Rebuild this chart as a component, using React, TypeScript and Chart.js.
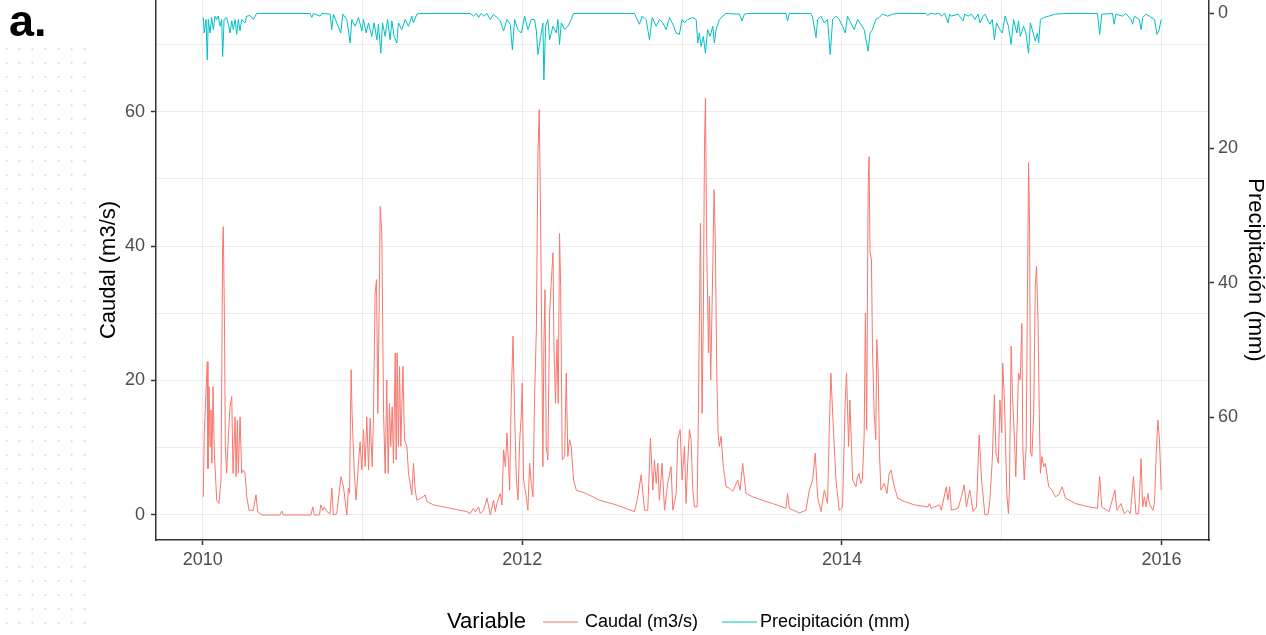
import React, { useEffect, useRef } from "react";
import { Chart, registerables } from "chart.js";

Chart.register(...registerables);

// Caudal (m3/s) — decimal year / value pairs
const caudalX = [
  2010.004, 2010.010, 2010.029, 2010.033, 2010.040, 2010.046, 2010.052, 2010.058, 2010.065, 2010.073,
  2010.088, 2010.102, 2010.115, 2010.125, 2010.129, 2010.136, 2010.142, 2010.150, 2010.163, 2010.171,
  2010.182, 2010.190, 2010.203, 2010.209, 2010.217, 2010.223, 2010.234, 2010.244, 2010.255, 2010.265,
  2010.276, 2010.290, 2010.317, 2010.334, 2010.344, 2010.370, 2010.484, 2010.495, 2010.505, 2010.678,
  2010.689, 2010.699, 2010.731, 2010.739, 2010.752, 2010.762, 2010.777, 2010.797, 2010.808, 2010.818,
  2010.839, 2010.866, 2010.881, 2010.902, 2010.912, 2010.919, 2010.929, 2010.935, 2010.948, 2010.960,
  2010.975, 2010.985, 2010.996, 2011.006, 2011.017, 2011.027, 2011.038, 2011.048, 2011.061, 2011.069,
  2011.079, 2011.088, 2011.096, 2011.104, 2011.111, 2011.121, 2011.132, 2011.142, 2011.152, 2011.161,
  2011.169, 2011.177, 2011.186, 2011.194, 2011.205, 2011.211, 2011.217, 2011.225, 2011.232, 2011.240,
  2011.253, 2011.263, 2011.278, 2011.288, 2011.309, 2011.319, 2011.330, 2011.340, 2011.365, 2011.382,
  2011.392, 2011.403, 2011.445, 2011.549, 2011.653, 2011.674, 2011.695, 2011.706, 2011.727, 2011.737,
  2011.758, 2011.779, 2011.800, 2011.820, 2011.831, 2011.841, 2011.862, 2011.873, 2011.883, 2011.894,
  2011.904, 2011.914, 2011.921, 2011.931, 2011.942, 2011.952, 2011.963, 2011.973, 2011.983, 2011.994,
  2012.000, 2012.008, 2012.025, 2012.035, 2012.046, 2012.056, 2012.067, 2012.077, 2012.088, 2012.098,
  2012.106, 2012.113, 2012.119, 2012.129, 2012.135, 2012.142, 2012.150, 2012.160, 2012.171, 2012.181,
  2012.192, 2012.198, 2012.208, 2012.217, 2012.225, 2012.233, 2012.240, 2012.250, 2012.265, 2012.275,
  2012.285, 2012.296, 2012.306, 2012.321, 2012.338, 2012.400, 2012.483, 2012.588, 2012.702, 2012.723,
  2012.744, 2012.765, 2012.785, 2012.802, 2012.817, 2012.827, 2012.838, 2012.848, 2012.858, 2012.875,
  2012.890, 2012.910, 2012.931, 2012.942, 2012.963, 2012.973, 2012.988, 2013.000, 2013.015, 2013.025,
  2013.035, 2013.046, 2013.056, 2013.067, 2013.077, 2013.094, 2013.102, 2013.108, 2013.115, 2013.125,
  2013.133, 2013.140, 2013.146, 2013.154, 2013.165, 2013.171, 2013.179, 2013.192, 2013.200, 2013.208,
  2013.217, 2013.225, 2013.233, 2013.244, 2013.258, 2013.275, 2013.296, 2013.317, 2013.348, 2013.363,
  2013.379, 2013.400, 2013.442, 2013.525, 2013.567, 2013.650, 2013.660, 2013.671, 2013.733, 2013.775,
  2013.796, 2013.817, 2013.833, 2013.848, 2013.869, 2013.890, 2013.910, 2013.921, 2013.931, 2013.942,
  2013.963, 2013.983, 2014.004, 2014.021, 2014.029, 2014.042, 2014.050, 2014.067, 2014.088, 2014.097,
  2014.107, 2014.118, 2014.128, 2014.139, 2014.147, 2014.155, 2014.164, 2014.170, 2014.176, 2014.185,
  2014.191, 2014.202, 2014.212, 2014.218, 2014.227, 2014.235, 2014.244, 2014.265, 2014.282, 2014.296,
  2014.307, 2014.328, 2014.349, 2014.391, 2014.454, 2014.538, 2014.548, 2014.559, 2014.611, 2014.622,
  2014.653, 2014.664, 2014.674, 2014.685, 2014.727, 2014.748, 2014.765, 2014.779, 2014.800, 2014.821,
  2014.842, 2014.859, 2014.874, 2014.895, 2014.916, 2014.926, 2014.941, 2014.954, 2014.964, 2014.979,
  2014.989, 2015.000, 2015.006, 2015.017, 2015.032, 2015.042, 2015.048, 2015.059, 2015.067, 2015.080,
  2015.088, 2015.105, 2015.116, 2015.126, 2015.132, 2015.141, 2015.153, 2015.160, 2015.168, 2015.174,
  2015.181, 2015.189, 2015.200, 2015.210, 2015.218, 2015.227, 2015.235, 2015.242, 2015.252, 2015.263,
  2015.273, 2015.294, 2015.315, 2015.336, 2015.357, 2015.378, 2015.399, 2015.462, 2015.546, 2015.599,
  2015.613, 2015.626, 2015.672, 2015.708, 2015.721, 2015.746, 2015.767, 2015.788, 2015.805, 2015.824,
  2015.840, 2015.857, 2015.872, 2015.882, 2015.893, 2015.903, 2015.914, 2015.924, 2015.945, 2015.956,
  2015.966, 2015.977, 2015.987, 2015.998,
];
const caudalY = [
  2.7, 12.2, 22.8, 6.9, 19.1, 10.2, 15.6, 7.7, 19.1, 9.2,
  2.2, 1.7, 5.2, 40.0, 42.9, 30.0, 10.2, 6.2, 12.7, 16.1,
  17.6, 6.2, 14.6, 5.7, 14.1, 6.2, 14.6, 6.2, 6.7, 6.2,
  2.7, 0.7, 0.7, 3.0, 0.5, 0, 0, 0.6, 0, 0,
  1.2, 0, 0, 1.5, 0.7, 1.2, 0.5, 0.2, 4.0, 0,
  0.2, 5.7, 4.2, 0, 4.0, 3.2, 21.6, 15.1, 6.7, 2.2,
  7.7, 10.9, 6.7, 12.7, 7.2, 14.6, 6.7, 14.4, 7.2, 15.1,
  33.0, 35.0, 15.1, 30.0, 45.9, 41.9, 15.1, 6.2, 20.1, 6.2,
  16.6, 10.2, 16.1, 7.7, 24.1, 8.2, 24.1, 10.2, 22.1, 10.2,
  22.1, 11.2, 10.2, 6.2, 3.0, 7.7, 3.7, 2.2, 2.5, 2.7,
  3.0, 2.0, 1.5, 1.0, 0.5, 0.2, 1.0, 0.5, 1.2, 0.2,
  0.7, 2.5, 0, 2.2, 0.5, 1.7, 3.2, 1.5, 9.7, 7.2,
  12.2, 7.7, 3.7, 17.6, 26.6, 15.1, 5.2, 2.2, 10.7, 15.1,
  19.6, 5.2, 2.7, 0.7, 7.7, 4.7, 2.7, 17.6, 27.5, 53.8,
  60.3, 47.4, 33.0, 7.2, 25.1, 33.5, 10.2, 8.2, 30.0, 34.5,
  39.0, 25.1, 16.6, 26.1, 16.6, 41.9, 34.0, 8.2, 8.7, 21.1,
  8.7, 11.2, 10.2, 5.2, 3.7, 3.2, 2.2, 1.5, 0.5, 2.7,
  6.0, 0.7, 0.7, 11.4, 3.7, 8.2, 4.7, 7.7, 2.2, 7.7,
  0.7, 4.7, 7.2, 0.7, 3.2, 11.2, 12.7, 5.2, 10.2, 1.7,
  7.7, 12.7, 11.2, 3.7, 1.2, 1.2, 15.1, 29.0, 43.4, 15.1,
  30.0, 54.8, 62.0, 40.0, 24.1, 32.5, 20.1, 37.0, 48.4, 40.9,
  21.1, 12.2, 10.2, 11.7, 7.2, 4.2, 4.0, 3.5, 5.2, 3.7,
  7.7, 3.2, 2.7, 2.0, 1.7, 1.0, 3.2, 1.0, 0.3, 0.7,
  3.7, 5.2, 9.2, 2.7, 0.5, 3.7, 1.7, 12.7, 21.1, 15.1,
  5.2, 0.7, 1.2, 17.1, 21.1, 10.2, 17.1, 5.2, 4.2, 5.7,
  6.2, 4.7, 5.2, 11.7, 30.0, 12.7, 48.4, 53.3, 39.0, 38.0,
  25.1, 15.1, 11.2, 26.1, 21.6, 9.2, 3.7, 4.7, 3.2, 6.2,
  6.7, 4.2, 2.5, 2.0, 1.5, 1.2, 1.7, 1.0, 1.5, 0.7,
  4.2, 2.2, 4.2, 0.7, 1.0, 2.7, 4.5, 1.2, 3.7, 0.5,
  1.2, 11.9, 5.2, 0, 0.2, 2.2, 8.2, 17.9, 9.2, 7.7,
  17.1, 12.2, 22.6, 17.1, 3.2, 0.2, 3.7, 25.1, 18.1, 11.2,
  5.7, 21.1, 20.1, 28.5, 10.2, 5.2, 10.2, 30.0, 52.4, 43.9,
  9.2, 8.7, 15.1, 34.0, 37.0, 29.0, 15.1, 6.2, 8.7, 7.2,
  7.7, 4.2, 3.7, 2.7, 3.0, 4.2, 2.5, 1.7, 1.2, 1.0,
  5.7, 1.2, 0.5, 3.7, 0.7, 1.7, 0.2, 0.7, 0.2, 5.7,
  0.2, 0.2, 8.4, 1.2, 2.7, 1.2, 3.2, 1.7, 0.7, 1.7,
  8.7, 14.1, 11.2, 3.7,
];

// Precipitación (mm) — decimal year / value pairs
const precipX = [
  2010.004, 2010.010, 2010.021, 2010.029, 2010.035, 2010.046, 2010.056, 2010.067, 2010.077, 2010.088,
  2010.098, 2010.109, 2010.119, 2010.125, 2010.134, 2010.150, 2010.161, 2010.171, 2010.182, 2010.192,
  2010.203, 2010.213, 2010.223, 2010.234, 2010.244, 2010.265, 2010.276, 2010.296, 2010.317, 2010.338,
  2010.672, 2010.683, 2010.693, 2010.735, 2010.745, 2010.797, 2010.808, 2010.818, 2010.864, 2010.877,
  2010.902, 2010.923, 2010.933, 2010.954, 2010.975, 2010.996, 2011.006, 2011.023, 2011.038, 2011.058,
  2011.073, 2011.090, 2011.100, 2011.115, 2011.125, 2011.142, 2011.157, 2011.173, 2011.184, 2011.198,
  2011.215, 2011.225, 2011.246, 2011.267, 2011.288, 2011.309, 2011.319, 2011.340, 2011.361, 2011.674,
  2011.695, 2011.712, 2011.727, 2011.741, 2011.758, 2011.779, 2011.800, 2011.820, 2011.841, 2011.862,
  2011.883, 2011.904, 2011.925, 2011.938, 2011.952, 2011.973, 2011.994, 2012.015, 2012.035, 2012.056,
  2012.077, 2012.088, 2012.098, 2012.119, 2012.129, 2012.135, 2012.146, 2012.160, 2012.171, 2012.192,
  2012.213, 2012.223, 2012.233, 2012.244, 2012.265, 2012.285, 2012.306, 2012.321, 2012.702, 2012.723,
  2012.733, 2012.750, 2012.775, 2012.796, 2012.813, 2012.838, 2012.858, 2012.879, 2012.900, 2012.921,
  2012.942, 2012.963, 2012.983, 2013.000, 2013.015, 2013.035, 2013.067, 2013.088, 2013.098, 2013.108,
  2013.119, 2013.133, 2013.146, 2013.160, 2013.175, 2013.192, 2013.202, 2013.213, 2013.233, 2013.254,
  2013.275, 2013.358, 2013.375, 2013.390, 2013.410, 2013.650, 2013.660, 2013.671, 2013.806, 2013.817,
  2013.838, 2013.848, 2013.869, 2013.890, 2013.910, 2013.927, 2013.942, 2013.963, 2013.983, 2014.004,
  2014.021, 2014.035, 2014.056, 2014.077, 2014.098, 2014.118, 2014.139, 2014.155, 2014.164, 2014.176,
  2014.191, 2014.212, 2014.233, 2014.254, 2014.286, 2014.317, 2014.349, 2014.527, 2014.538, 2014.548,
  2014.569, 2014.580, 2014.611, 2014.622, 2014.643, 2014.664, 2014.674, 2014.685, 2014.727, 2014.758,
  2014.769, 2014.790, 2014.811, 2014.832, 2014.853, 2014.863, 2014.884, 2014.895, 2014.926, 2014.941,
  2014.954, 2014.968, 2014.989, 2015.004, 2015.021, 2015.042, 2015.059, 2015.074, 2015.095, 2015.105,
  2015.116, 2015.137, 2015.151, 2015.168, 2015.179, 2015.193, 2015.210, 2015.223, 2015.231, 2015.242,
  2015.263, 2015.294, 2015.336, 2015.399, 2015.599, 2015.613, 2015.626, 2015.693, 2015.704, 2015.714,
  2015.756, 2015.777, 2015.809, 2015.819, 2015.830, 2015.861, 2015.872, 2015.882, 2015.903, 2015.924,
  2015.956, 2015.971, 2015.983, 2015.998,
];
const precipY = [
  0.6, 2.9, 0.9, 6.9, 0.9, 2.9, 0.6, 2.4, 0.4, 0.9,
  0.4, 1.9, 0.9, 6.4, 0.9, 0.6, 1.6, 2.9, 1.1, 2.4,
  0.9, 3.1, 0.9, 2.6, 0.9, 1.4, 0.4, 0.3, 0.9, 0,
  0, 0.6, 0, 0.4, 0, 0.1, 2.4, 0.1, 2.9, 0.1,
  0.9, 4.4, 0.9, 1.9, 0.6, 2.6, 0.9, 2.9, 1.4, 3.4,
  1.4, 3.9, 1.6, 5.9, 1.4, 3.4, 0.9, 3.9, 1.1, 3.4,
  4.4, 1.4, 2.4, 0.9, 1.9, 0.4, 1.4, 0.1, 0, 0,
  0.4, 0, 0.6, 0, 0.4, 0, 0.9, 0.1, 0.6, 1.1,
  2.6, 0.9, 1.6, 5.4, 0.9, 2.4, 2.9, 0.4, 2.4, 0.9,
  0.9, 2.6, 6.1, 2.9, 1.4, 9.9, 1.9, 0.9, 3.9, 1.9,
  2.9, 0.9, 4.6, 1.4, 2.4, 1.9, 0.9, 0, 0, 1.1,
  1.6, 0.4, 0.9, 3.9, 0.6, 1.9, 0.9, 1.4, 2.4, 0.6,
  1.6, 2.9, 3.1, 0.9, 1.4, 0.9, 0.6, 0.9, 4.4, 2.9,
  4.9, 3.4, 5.9, 2.4, 3.4, 1.9, 4.4, 2.4, 0.9, 0.4,
  0, 0.1, 1.1, 0.1, 0, 0, 1.1, 0, 0, 0.6,
  3.6, 0.9, 0.4, 1.4, 0.9, 6.1, 0.9, 0.4, 0.9, 1.9,
  2.9, 0.4, 1.4, 2.4, 0.9, 1.6, 2.4, 4.4, 5.6, 2.9,
  2.4, 0.9, 0.6, 0.1, 0.4, 0.1, 0, 0, 0.3, 0,
  0, 0.1, 0, 0.4, 0, 1.4, 0.1, 0.4, 0.1, 1.1,
  0.1, 0.4, 0.1, 0.9, 0.1, 1.4, 0.4, 0.1, 1.6, 0.9,
  3.9, 1.4, 2.4, 2.9, 0.4, 1.9, 4.6, 0.9, 2.9, 1.1,
  3.4, 1.9, 2.9, 5.9, 1.4, 2.6, 4.1, 2.9, 4.4, 0.9,
  0.6, 0.4, 0.1, 0, 0, 3.1, 0.1, 0, 1.6, 0.1,
  0.4, 0, 0.9, 1.6, 0.4, 0.9, 2.4, 0.6, 0.1, 0.4,
  0.9, 3.1, 2.6, 0.9,
];

// Axes
const xGridYears = [2010, 2011, 2012, 2013, 2014, 2015, 2016];
const xLabelYears = [2010, 2012, 2014, 2016];
const caudalGrid = [0, 10, 20, 30, 40, 50, 60, 70];
const caudalLabels = [0, 20, 40, 60];
const precipLabels = [0, 20, 40, 60];

const FONT = "'Liberation Sans', Arial, Helvetica, sans-serif";
const CAUDAL_COLOR = "#F8766D";
const PRECIP_COLOR = "#00BFC4";
const AXIS_COLOR = "#333333";
const GRID_COLOR = "#EBEBEB";
const TICK_TEXT = "#4D4D4D";
const TICK_SIZE = 18;
const TITLE_SIZE = 22;

export default function App() {
  const canvasRef = useRef<HTMLCanvasElement | null>(null);

  useEffect(() => {
    const canvas = canvasRef.current;
    if (!canvas) return;

    const zeroPad = (s: any) => {
      s.paddingTop = 0;
      s.paddingBottom = 0;
      s.paddingLeft = 0;
      s.paddingRight = 0;
    };

    const overlay = {
      id: "ggOverlay",
      afterDraw(chart: any) {
        const ctx = chart.ctx as CanvasRenderingContext2D;
        ctx.save();
        // panel tag
        ctx.fillStyle = "#000000";
        ctx.font = `bold 45px ${FONT}`;
        ctx.textAlign = "left";
        ctx.textBaseline = "alphabetic";
        ctx.fillText("a.", 9, 36);

        // legend (ggplot style, inline title)
        const ly = 622;
        ctx.textBaseline = "middle";
        ctx.fillStyle = "#000000";
        ctx.font = `${TITLE_SIZE}px ${FONT}`;
        ctx.fillText("Variable", 447, ly);
        ctx.font = `${TICK_SIZE}px ${FONT}`;
        ctx.lineWidth = 1.2;
        ctx.strokeStyle = CAUDAL_COLOR;
        ctx.beginPath();
        ctx.moveTo(543, ly);
        ctx.lineTo(578, ly);
        ctx.stroke();
        ctx.fillText("Caudal (m3/s)", 585, ly);
        ctx.strokeStyle = PRECIP_COLOR;
        ctx.beginPath();
        ctx.moveTo(722, ly);
        ctx.lineTo(757, ly);
        ctx.stroke();
        ctx.fillText("Precipitación (mm)", 760, ly);
        ctx.restore();
      },
    };

    const chart = new Chart(canvas, {
      type: "line",
      data: {
        datasets: [
          {
            label: "Caudal (m3/s)",
            data: caudalX.map((x, i) => ({ x, y: caudalY[i] })),
            borderColor: CAUDAL_COLOR,
            backgroundColor: CAUDAL_COLOR,
            borderWidth: 1,
            pointRadius: 0,
            tension: 0,
            yAxisID: "y",
          },
          {
            label: "Precipitación (mm)",
            data: precipX.map((x, i) => ({ x, y: precipY[i] })),
            borderColor: PRECIP_COLOR,
            backgroundColor: PRECIP_COLOR,
            borderWidth: 1,
            pointRadius: 0,
            tension: 0,
            yAxisID: "y2",
          },
        ],
      },
      options: {
        animation: false,
        responsive: false,
        maintainAspectRatio: false,
        layout: { padding: 0, autoPadding: false } as any,
        plugins: {
          legend: { display: false },
          tooltip: { enabled: false },
        },
        scales: {
          x: {
            type: "linear",
            position: "bottom",
            min: 2009.708,
            max: 2016.297,
            afterBuildTicks: (s: any) => {
              s.ticks = xGridYears.map((v) => ({ value: v }));
            },
            afterFit: (s: any) => {
              s.height = 95;
              zeroPad(s);
            },
            ticks: {
              autoSkip: false,
              maxRotation: 0,
              padding: 4,
              color: TICK_TEXT,
              font: { family: FONT, size: TICK_SIZE },
              callback: (v: any) => (xLabelYears.includes(Number(v)) ? String(v) : ""),
            },
            grid: {
              color: GRID_COLOR,
              lineWidth: 1,
              tickLength: 5,
              tickWidth: 1.5,
              tickColor: (c: any) =>
                c.tick && xLabelYears.includes(c.tick.value) ? AXIS_COLOR : "rgba(0,0,0,0)",
            },
            border: { display: true, color: AXIS_COLOR, width: 1.5 },
          },
          y: {
            type: "linear",
            position: "left",
            min: -3.72,
            max: 76.6,
            afterBuildTicks: (s: any) => {
              s.ticks = caudalGrid.map((v) => ({ value: v }));
            },
            afterFit: (s: any) => {
              s.width = 156;
              zeroPad(s);
            },
            ticks: {
              autoSkip: false,
              padding: 6,
              color: TICK_TEXT,
              font: { family: FONT, size: TICK_SIZE },
              callback: (v: any) => (caudalLabels.includes(Number(v)) ? String(v) : ""),
            },
            grid: {
              color: GRID_COLOR,
              lineWidth: 1,
              tickLength: 5,
              tickWidth: 1.5,
              tickColor: (c: any) =>
                c.tick && caudalLabels.includes(c.tick.value) ? AXIS_COLOR : "rgba(0,0,0,0)",
            },
            border: { display: true, color: AXIS_COLOR, width: 1.5 },
            title: {
              display: true,
              text: "Caudal (m3/s)",
              color: "#000000",
              font: { family: FONT, size: TITLE_SIZE, lineHeight: 1.2 },
              padding: { top: 96, bottom: 0 },
            },
          },
          y2: {
            type: "linear",
            position: "right",
            reverse: true,
            min: -2.0,
            max: 78.2,
            afterBuildTicks: (s: any) => {
              s.ticks = precipLabels.map((v) => ({ value: v }));
            },
            afterFit: (s: any) => {
              s.width = 57;
              zeroPad(s);
            },
            ticks: {
              autoSkip: false,
              padding: 4,
              color: TICK_TEXT,
              font: { family: FONT, size: TICK_SIZE },
              callback: (v: any) => String(v),
            },
            grid: {
              drawOnChartArea: false,
              tickLength: 5,
              tickWidth: 1.5,
              tickColor: AXIS_COLOR,
            },
            border: { display: true, color: AXIS_COLOR, width: 1.5 },
            title: {
              display: true,
              text: "Precipitación (mm)",
              color: "#000000",
              font: { family: FONT, size: TITLE_SIZE, lineHeight: 1 },
              padding: { top: 0, bottom: 0 },
            },
          },
        },
      } as any,
      plugins: [overlay],
    });

    return () => {
      chart.destroy();
    };
  }, []);

  return (
    <div style={{ position: "absolute", left: 0, top: 0, width: 1266, height: 635, background: "#ffffff" }}>
      <div
        style={{
          position: "absolute",
          left: 0,
          top: 42,
          width: 88,
          height: 593,
          backgroundImage: "radial-gradient(circle, #e2e2e2 0.9px, rgba(255,255,255,0) 1.4px)",
          backgroundSize: "13px 14px",
        }}
      />
      <canvas
        ref={canvasRef}
        width={1266}
        height={635}
        style={{ position: "absolute", left: 0, top: 0, width: 1266, height: 635, display: "block" }}
      />
    </div>
  );
}
